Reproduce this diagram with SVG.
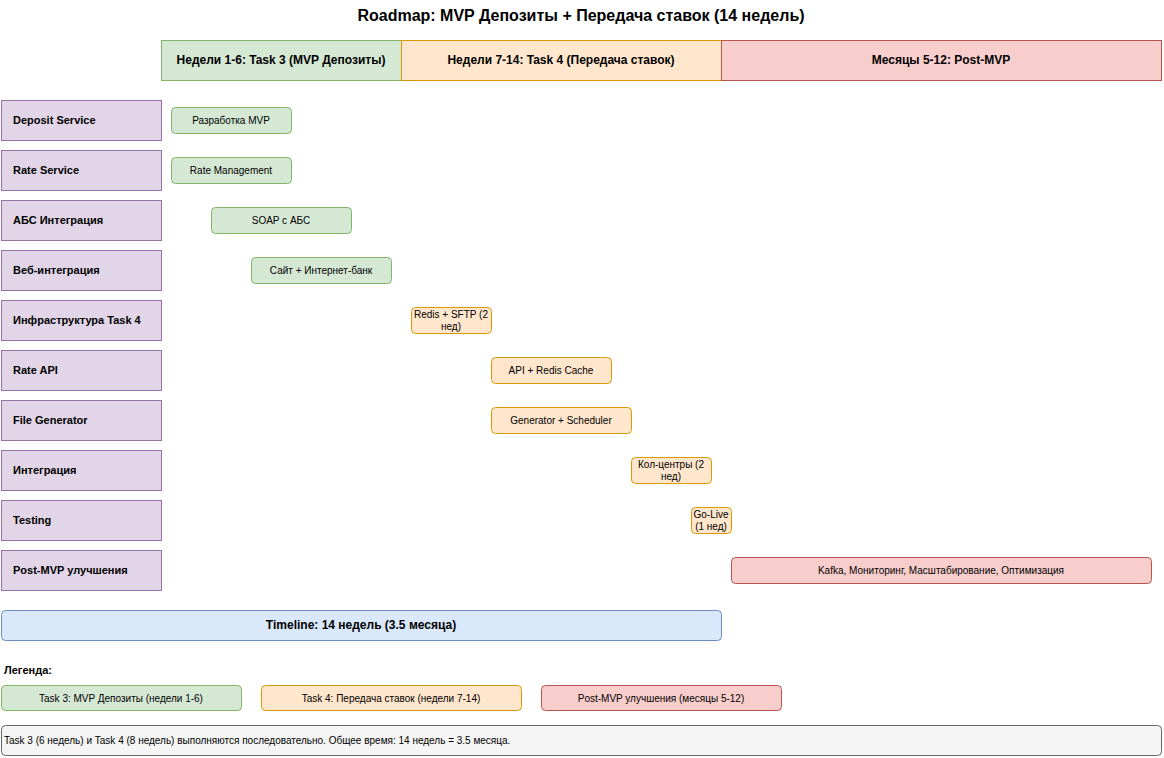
<svg xmlns="http://www.w3.org/2000/svg" width="1164" height="758" viewBox="0 0 1164 758">
<style>
text{font-family:"Liberation Sans",Arial,sans-serif;fill:#000}
.g{fill:#d5e8d4;stroke:#82b366}
.o{fill:#ffe6cc;stroke:#d79b00}
.r{fill:#f8cecc;stroke:#b85450}
.p{fill:#e1d5e7;stroke:#9673a6}
.b{fill:#dae8fc;stroke:#6c8ebf}
.n{fill:#f5f5f5;stroke:#666666}
.hd{font-size:12px;font-weight:bold;text-anchor:middle}
.rl{font-size:11px;font-weight:bold}
.bt{font-size:10px;text-anchor:middle}
</style>
<rect width="1164" height="758" fill="#ffffff"/>
<text x="581" y="21" style="font-size:16px;font-weight:bold;text-anchor:middle">Roadmap: MVP Депозиты + Передача ставок (14 недель)</text>
<g id="headers">
<g id="h1"><rect class="g" x="161.5" y="40.5" width="240" height="40"/><text class="hd" x="281" y="64">Недели 1-6: Task 3 (MVP Депозиты)</text></g>
<g id="h2"><rect class="o" x="401.5" y="40.5" width="320" height="40"/><text class="hd" x="561" y="64">Недели 7-14: Task 4 (Передача ставок)</text></g>
<g id="h3"><rect class="r" x="721.5" y="40.5" width="440" height="40"/><text class="hd" x="941" y="64">Месяцы 5-12: Post-MVP</text></g>
</g>
<g id="rows">
<g id="row1"><rect class="p" x="1.5" y="100.5" width="160" height="40"/><text class="rl" x="13" y="124">Deposit Service</text></g>
<g id="row2"><rect class="p" x="1.5" y="150.5" width="160" height="40"/><text class="rl" x="13" y="174">Rate Service</text></g>
<g id="row3"><rect class="p" x="1.5" y="200.5" width="160" height="40"/><text class="rl" x="13" y="224">АБС Интеграция</text></g>
<g id="row4"><rect class="p" x="1.5" y="250.5" width="160" height="40"/><text class="rl" x="13" y="274">Веб-интеграция</text></g>
<g id="row5"><rect class="p" x="1.5" y="300.5" width="160" height="40"/><text class="rl" x="13" y="324">Инфраструктура Task 4</text></g>
<g id="row6"><rect class="p" x="1.5" y="350.5" width="160" height="40"/><text class="rl" x="13" y="374">Rate API</text></g>
<g id="row7"><rect class="p" x="1.5" y="400.5" width="160" height="40"/><text class="rl" x="13" y="424">File Generator</text></g>
<g id="row8"><rect class="p" x="1.5" y="450.5" width="160" height="40"/><text class="rl" x="13" y="474">Интеграция</text></g>
<g id="row9"><rect class="p" x="1.5" y="500.5" width="160" height="40"/><text class="rl" x="13" y="524">Testing</text></g>
<g id="row10"><rect class="p" x="1.5" y="550.5" width="160" height="40"/><text class="rl" x="13" y="574">Post-MVP улучшения</text></g>
</g>
<g id="bars">
<g id="bar1"><rect class="g" x="171.5" y="107.5" width="120" height="26" rx="4"/><text class="bt" x="231" y="124">Разработка MVP</text></g>
<g id="bar2"><rect class="g" x="171.5" y="157.5" width="120" height="26" rx="4"/><text class="bt" x="231" y="174">Rate Management</text></g>
<g id="bar3"><rect class="g" x="211.5" y="207.5" width="140" height="26" rx="4"/><text class="bt" x="281" y="224">SOAP с АБС</text></g>
<g id="bar4"><rect class="g" x="251.5" y="257.5" width="140" height="26" rx="4"/><text class="bt" x="321" y="274">Сайт + Интернет-банк</text></g>
<g id="bar5"><rect class="o" x="411.5" y="307.5" width="80" height="26" rx="4"/><text class="bt" x="451" y="318">Redis + SFTP (2</text><text class="bt" x="451" y="330">нед)</text></g>
<g id="bar6"><rect class="o" x="491.5" y="357.5" width="120" height="26" rx="4"/><text class="bt" x="551" y="374">API + Redis Cache</text></g>
<g id="bar7"><rect class="o" x="491.5" y="407.5" width="140" height="26" rx="4"/><text class="bt" x="561" y="424">Generator + Scheduler</text></g>
<g id="bar8"><rect class="o" x="631.5" y="457.5" width="80" height="26" rx="4"/><text class="bt" x="671" y="468">Кол-центры (2</text><text class="bt" x="671" y="480">нед)</text></g>
<g id="bar9"><rect class="o" x="691.5" y="507.5" width="40" height="26" rx="4"/><text class="bt" x="711" y="518">Go-Live</text><text class="bt" x="711" y="530">(1 нед)</text></g>
<g id="bar10"><rect class="r" x="731.5" y="557.5" width="420" height="26" rx="4"/><text class="bt" x="941" y="574">Kafka, Мониторинг, Масштабирование, Оптимизация</text></g>
</g>
<g id="connectors"></g>
<g id="timeline"><rect class="b" x="1.5" y="610.5" width="720" height="30" rx="4"/><text class="hd" x="361" y="629">Timeline: 14 недель (3.5 месяца)</text></g>
<g id="legend">
<text class="rl" x="4" y="674">Легенда:</text>
<g id="leg1"><rect class="g" x="1.5" y="685.5" width="240" height="25" rx="4"/><text class="bt" x="121" y="702">Task 3: MVP Депозиты (недели 1-6)</text></g>
<g id="leg2"><rect class="o" x="261.5" y="685.5" width="260" height="25" rx="4"/><text class="bt" x="391" y="702">Task 4: Передача ставок (недели 7-14)</text></g>
<g id="leg3"><rect class="r" x="541.5" y="685.5" width="240" height="25" rx="4"/><text class="bt" x="661" y="702">Post-MVP улучшения (месяцы 5-12)</text></g>
</g>
<g id="note"><rect class="n" x="1.5" y="725.5" width="1160" height="30" rx="4"/><text x="4" y="744" style="font-size:10px">Task 3 (6 недель) и Task 4 (8 недель) выполняются последовательно. Общее время: 14 недель = 3.5 месяца.</text></g>
</svg>
